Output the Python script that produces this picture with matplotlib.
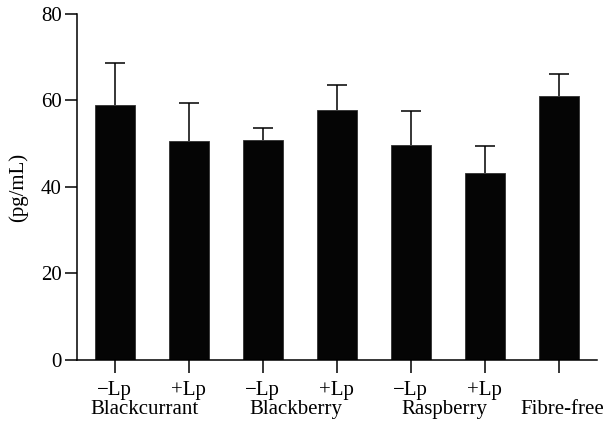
import matplotlib
matplotlib.use("Agg")
import matplotlib.pyplot as plt
import numpy as np

# values (pg/mL)
tick_labels = ["\u2212Lp", "+Lp", "\u2212Lp", "+Lp", "\u2212Lp", "+Lp", ""]
group_labels = ["Blackcurrant", "Blackberry", "Raspberry", "Fibre-free"]
group_pos = [0.4, 2.45, 4.45, 6.05]
means = [58.9, 50.6, 50.9, 57.7, 49.6, 43.2, 61.1]
errors = [9.7, 8.8, 2.8, 5.9, 7.9, 6.3, 5.0]

plt.rcParams['font.family'] = ['Liberation Serif', 'DejaVu Serif']

fig = plt.figure(figsize=(6.08, 4.33), dpi=100)
ax = fig.add_axes([0.1266, 0.1686, 0.8554, 0.7991])

x = np.arange(len(means))
ax.bar(x, means, width=0.54, color='#050505', edgecolor='#303030', linewidth=0.6,
       zorder=2)
eb = ax.errorbar(x, means, yerr=[np.zeros(len(errors)), errors], fmt='none',
                 ecolor='black', elinewidth=1.1, capsize=7, capthick=1.1,
                 zorder=1)
# only the upper caps are wanted
eb.lines[1][0].set_visible(False)

ax.set_xlim(-0.51, 6.52)
ax.set_ylim(0, 80)
ax.set_yticks([0, 20, 40, 60, 80])
ax.set_xticks(x)
ax.set_xticklabels(tick_labels)
ax.tick_params(axis='both', direction='out', length=9, width=1.1, labelsize=15,
               pad=2)
ax.tick_params(axis='x', pad=6)
ax.spines['top'].set_visible(False)
ax.spines['right'].set_visible(False)
ax.spines['left'].set_linewidth(1.1)
ax.spines['bottom'].set_linewidth(1.1)
ax.set_ylabel("(pg/mL)", fontsize=15, labelpad=9)

for gx, name in zip(group_pos, group_labels):
    ax.text(gx, -0.142, name, transform=ax.get_xaxis_transform(), ha='center',
            va='center', fontsize=15)

fig.savefig("out.png", dpi=100)
